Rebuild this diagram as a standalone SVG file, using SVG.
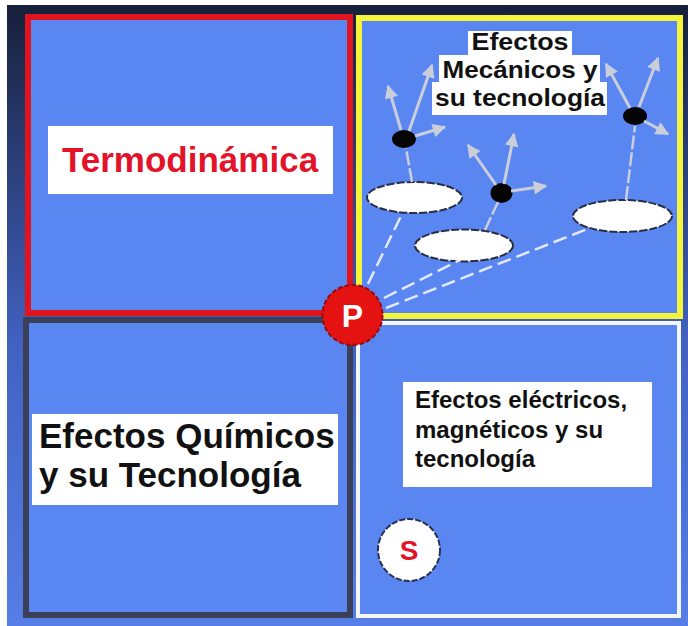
<svg xmlns="http://www.w3.org/2000/svg" width="688" height="626" viewBox="0 0 688 626">
<style>
text{font-family:"Liberation Sans",Arial,sans-serif;font-weight:bold}
.panel{fill:#5a86f2}
.lbl{fill:#ffffff}
.blk{fill:#111111}
.arr{stroke:#c9ced9;stroke-width:3;fill:none;marker-end:url(#ah)}
.lnk{stroke:#c9ced9;stroke-width:2.5;fill:none;stroke-dasharray:14 3}
.dash{stroke:#e2e8fa;stroke-width:2.5;fill:none;stroke-dasharray:14 6}
.ell{fill:#ffffff;stroke:#2a2e40;stroke-width:2;stroke-dasharray:8 2}
.dot{fill:#050505}
</style>
<defs>
<linearGradient id="bg" x1="0" y1="0" x2="0" y2="1">
<stop offset="0" stop-color="#17203a"/>
<stop offset="0.55" stop-color="#4262c2"/>
<stop offset="1" stop-color="#567ee6"/>
</linearGradient>
<marker id="ah" viewBox="0 0 10 10" refX="9" refY="5" markerWidth="5" markerHeight="4.5" orient="auto" markerUnits="strokeWidth">
<path d="M0,0 L10,5 L0,10 Z" fill="#c9ced9"/>
</marker>
</defs>
<rect x="0" y="0" width="688" height="626" fill="#ffffff"/>
<rect x="7" y="5" width="681" height="621" fill="url(#bg)"/>

<g id="termodinamica">
<rect class="panel" x="28" y="17" width="322" height="296" stroke="#e0141e" stroke-width="6"/>
<rect class="lbl" x="48" y="126" width="285" height="68"/>
<text x="62" y="172" font-size="35" fill="#e3132a">Termodinámica</text>
</g>

<g id="mecanicos">
<rect class="panel" x="359" y="18" width="321" height="298" stroke="#f4f43a" stroke-width="6"/>
</g>

<g id="quimicos">
<rect class="panel" x="26" y="320" width="324" height="295" stroke="#3b3f58" stroke-width="6"/>
<rect class="lbl" x="32" y="414" width="306" height="91"/>
<text x="39" y="448" font-size="35" class="blk">Efectos Químicos</text>
<text x="39" y="487" font-size="35" class="blk">y su Tecnología</text>
</g>

<g id="electricos">
<rect class="panel" x="358" y="323" width="321" height="293" stroke="#f4f6ff" stroke-width="4"/>
<rect class="lbl" x="403" y="382" width="249" height="105"/>
<text x="415" y="408" font-size="24" class="blk">Efectos eléctricos,</text>
<text x="415" y="438" font-size="24" class="blk">magnéticos y su</text>
<text x="415" y="467" font-size="24" class="blk">tecnología</text>
</g>

<g id="particulas">
<ellipse class="ell" cx="414.5" cy="197.5" rx="47.5" ry="15.5"/>
<ellipse class="ell" cx="464" cy="245.5" rx="49" ry="16"/>
<ellipse class="ell" cx="622.5" cy="216" rx="49.5" ry="16"/>
<ellipse class="dot" cx="404" cy="139" rx="12" ry="9"/>
<ellipse class="dot" cx="501.5" cy="193" rx="11" ry="10"/>
<ellipse class="dot" cx="635" cy="116" rx="12" ry="9"/>
</g>

<g id="connectors">
<line class="dash" x1="368" y1="284" x2="401" y2="216"/>
<line class="dash" x1="384" y1="298" x2="460" y2="260"/>
<line class="dash" x1="386" y1="308" x2="590" y2="228"/>
<line class="lnk" x1="412" y1="182" x2="406" y2="148"/>
<line class="lnk" x1="485" y1="230" x2="498" y2="202"/>
<line class="lnk" x1="626" y1="200" x2="635" y2="126"/>
<line class="arr" x1="401" y1="130" x2="388" y2="86"/>
<line class="arr" x1="409" y1="131" x2="432" y2="65"/>
<line class="arr" x1="415" y1="136" x2="445" y2="127"/>
<line class="arr" x1="496" y1="185" x2="468" y2="145"/>
<line class="arr" x1="504" y1="184" x2="514" y2="134"/>
<line class="arr" x1="511" y1="191" x2="546" y2="186"/>
<line class="arr" x1="630" y1="108" x2="606" y2="64"/>
<line class="arr" x1="639" y1="107" x2="658" y2="58"/>
<line class="arr" x1="644" y1="121" x2="668" y2="134"/>
</g>

<g id="titulo-mecanicos">
<rect class="lbl" x="468" y="31" width="104" height="25"/>
<rect class="lbl" x="439" y="55" width="161" height="28"/>
<rect class="lbl" x="432" y="82" width="175" height="33"/>
<text x="520" y="50" font-size="24" class="blk" text-anchor="middle" textLength="97" lengthAdjust="spacingAndGlyphs">Efectos</text>
<text x="520" y="78" font-size="24" class="blk" text-anchor="middle" textLength="155" lengthAdjust="spacingAndGlyphs">Mecánicos y</text>
<text x="520" y="106" font-size="24" class="blk" text-anchor="middle" textLength="170" lengthAdjust="spacingAndGlyphs">su tecnología</text>
</g>

<g id="P">
<circle cx="352.5" cy="315" r="30" fill="#e51212" stroke="#9a0a0a" stroke-width="2" stroke-dasharray="5 2"/>
<text x="352.5" y="327" font-size="32" fill="#ffffff" text-anchor="middle">P</text>
</g>

<g id="S">
<circle cx="409" cy="550" r="31" fill="#ffffff" stroke="#2a3050" stroke-width="2" stroke-dasharray="6 2"/>
<text x="409" y="560" font-size="28" fill="#e3132a" text-anchor="middle">S</text>
</g>
</svg>
